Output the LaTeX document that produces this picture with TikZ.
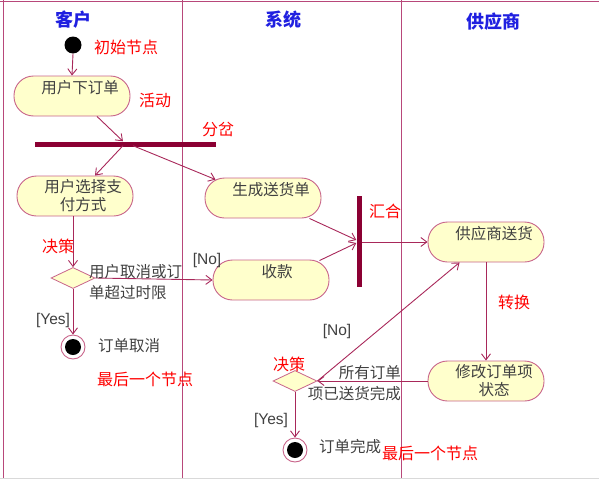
\documentclass[tikz,border=0pt]{standalone}
\usepackage{fontspec}
\setmainfont{Liberation Sans}
\newfontfamily\cjk{Noto Sans CJK SC}
\usetikzlibrary{arrows.meta,shapes.geometric,calc}
\definecolor{lane}{HTML}{B8487A}
\definecolor{boxline}{HTML}{C8648A}
\definecolor{boxfill}{HTML}{FFFFCC}
\definecolor{arr}{HTML}{A8285A}
\definecolor{bar}{HTML}{8B0033}
\definecolor{ttl}{HTML}{2020E0}
\definecolor{txt}{HTML}{404040}
\newcommand\shr{\hspace*{16pt}}
\begin{document}
\begin{tikzpicture}[x=1pt,y=-1pt,
  act/.style={draw=boxline,fill=boxfill,line width=0.9pt,rounded corners=19.5pt,minimum width=116pt,minimum height=40pt,inner sep=0pt,align=center,text=txt,font=\cjk\fontsize{15.5}{18}\selectfont},
  dec/.style={diamond,draw=boxline,fill=boxfill,line width=0.8pt,minimum width=44pt,minimum height=21pt,inner sep=0pt,aspect=2.1},
  barh/.style={fill=bar,draw=none,inner sep=0pt},
  startnode/.style={circle,fill=black,minimum size=17pt,inner sep=0pt},
  endnode/.style={circle,draw=boxline,fill=white,line width=0.9pt,minimum size=24pt,inner sep=0pt,path picture={\fill[black] (path picture bounding box.center) circle (8pt);}},
  flow/.style={draw=arr,line width=0.9pt,-{Straight Barb[length=6pt,width=9pt]}},
  title/.style={text=ttl,font=\cjk\bfseries\fontsize{18}{20}\selectfont},
  note/.style={text=red,font=\cjk\fontsize{16}{18}\selectfont,inner sep=0pt},
  gtxt/.style={text=txt,font=\cjk\fontsize{15.5}{20.5}\selectfont,inner sep=0pt},
  guard/.style={text=txt,font=\fontsize{15.5}{18}\selectfont,inner sep=0pt}]
\useasboundingbox (0,0) rectangle (599,479);
% swimlanes
\draw[lane,line width=1pt] (0,1) -- (599,1);
\draw[lane,line width=1pt] (3,0) -- (3,479);
\draw[lane,line width=1pt] (182,0) -- (182,479);
\draw[lane,line width=1pt] (401,0) -- (401,479);
\draw[black!15,line width=0.8pt] (0,478) -- (599,478);
\node[title] (t1) at (73,20) {客户};
\node[title] (t2) at (283,20) {系统};
\node[title] (t3) at (493,22) {供应商};
% nodes
\node[startnode] (start) at (73,45) {};
\node[act] (a1) at (72,96) {\shr 用户下订单\\\mbox{}};
\node[barh,minimum width=181pt,minimum height=5pt] (fork) at (125,144) {};
\node[act] (a2) at (75,196) {\shr 用户选择支\\\shr 付方式};
\node[act] (a3) at (263,198) {\shr 生成送货单\\\mbox{}};
\node[dec] (d1) at (73,278) {};
\node[endnode] (end1) at (73,347) {};
\node[act] (a4) at (271,280) {\hspace*{12pt}收款\\\mbox{}};
\node[barh,minimum width=5pt,minimum height=91pt] (join) at (359,241) {};
\node[act] (a5) at (486,242) {\shr 供应商送货\\\mbox{}};
\node[act] (a6) at (486,381) {\shr 修改订单项\\\shr 状态};
\node[dec] (d2) at (295,381) {};
\node[endnode] (end2) at (295,450) {};
% connectors
\draw[flow] (start.south) -- (a1.north);
\draw[flow] ($(a1.south)+(25,0)$) -- ($(fork.north)+(-2,0)$);
\draw[flow] ($(fork.south)+(-2,-1)$) -- ($(a2.north)+(20,0)$);
\draw[flow] ($(fork.south)+(8,-1)$) -- ($(a3.north west)+(11,2)$);
\draw[flow] ($(a3.south east)+(-12,0)$) -- ($(join.west)+(0,-1)$);
\draw[flow] ($(a4.north east)+(-10,1)$) -- ($(join.west)+(0,2)$);
\draw[flow] ($(join.east)+(0,1)$) -- (a5.west |- {$(join.east)+(0,1)$});
\draw[flow] (d1.north |- a2.south) -- (d1.north);
\draw[flow] (d1.east) -- (a4.west);
\draw[flow] (d1.south) -- (end1.north);
\draw[flow] (a5.south) -- (a6.north);
\draw[flow] (a6.west) -- (d2.east);
\draw[flow] (d2.east) -- ($(a5.south west)+(32,0)$);
\draw[flow] (d2.south) -- (end2.north);
% texts
\node[gtxt,anchor=west,align=left] (d1t) at (89,282) {用户取消或订\\单超过时限};
\node[gtxt,anchor=east,align=right] (d2t) at (401,383) {所有订单\\项已送货完成};
\node[gtxt] (e1t) at (129,346) {订单取消};
\node[gtxt] (e2t) at (350,447) {订单完成};
\node[guard] (no1) at (207,260) {[No]};
\node[guard] (yes1) at (53,320) {[Yes]};
\node[guard] (no2) at (337,331) {[No]};
\node[guard] (yes2) at (271,420) {[Yes]};
% red annotations
\node[note] (n1) at (126,47) {初始节点};
\node[note] (n2) at (155,100) {活动};
\node[note] (n3) at (218,129) {分岔};
\node[note] (n4) at (385,211) {汇合};
\node[note] (n5) at (58,246) {决策};
\node[note] (n6) at (145,379) {最后一个节点};
\node[note] (n7) at (514,302) {转换};
\node[note] (n8) at (289,364) {决策};
\node[note] (n9) at (430,453) {最后一个节点};
\end{tikzpicture}
\end{document}
